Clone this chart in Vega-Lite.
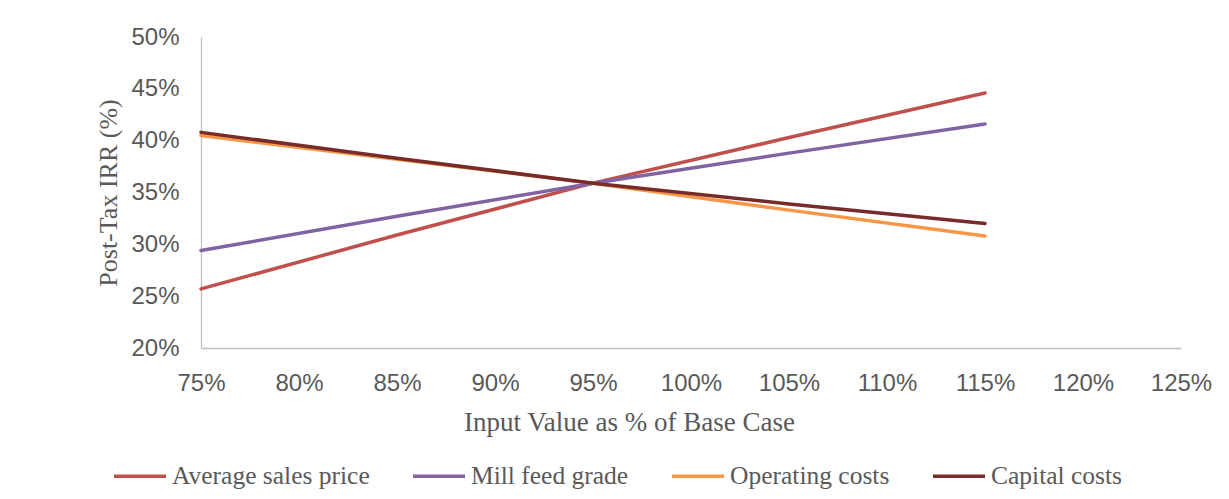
{
  "$schema": "https://vega.github.io/schema/vega-lite/v6.json",
  "autosize": "none",
  "width": 980,
  "height": 311,
  "padding": {"left": 201, "top": 37, "right": 48, "bottom": 151},
  "background": "white",
  "config": {"view": {"stroke": null}},
  "data": {"values": [
    {"x": 0.75, "y": 0.257, "s": "Average sales price"},
    {"x": 0.85, "y": 0.309, "s": "Average sales price"},
    {"x": 0.95, "y": 0.359, "s": "Average sales price"},
    {"x": 1.05, "y": 0.403, "s": "Average sales price"},
    {"x": 1.15, "y": 0.446, "s": "Average sales price"},
    {"x": 0.75, "y": 0.294, "s": "Mill feed grade"},
    {"x": 0.85, "y": 0.327, "s": "Mill feed grade"},
    {"x": 0.95, "y": 0.359, "s": "Mill feed grade"},
    {"x": 1.05, "y": 0.388, "s": "Mill feed grade"},
    {"x": 1.15, "y": 0.416, "s": "Mill feed grade"},
    {"x": 0.75, "y": 0.405, "s": "Operating costs"},
    {"x": 0.85, "y": 0.382, "s": "Operating costs"},
    {"x": 0.95, "y": 0.359, "s": "Operating costs"},
    {"x": 1.05, "y": 0.333, "s": "Operating costs"},
    {"x": 1.15, "y": 0.308, "s": "Operating costs"},
    {"x": 0.75, "y": 0.408, "s": "Capital costs"},
    {"x": 0.85, "y": 0.383, "s": "Capital costs"},
    {"x": 0.95, "y": 0.359, "s": "Capital costs"},
    {"x": 1.05, "y": 0.339, "s": "Capital costs"},
    {"x": 1.15, "y": 0.320, "s": "Capital costs"}
  ]},
  "mark": {"type": "line", "strokeWidth": 3.5, "strokeCap": "round"},
  "encoding": {
    "x": {
      "field": "x", "type": "quantitative",
      "scale": {"domain": [0.75, 1.25], "nice": false, "zero": false},
      "axis": {
        "values": [0.75, 0.8, 0.85, 0.9, 0.95, 1.0, 1.05, 1.1, 1.15, 1.2, 1.25],
        "format": ".0%", "grid": false, "ticks": false, "domainColor": "#bfbfbf", "domainWidth": 1.3,
        "labelFont": "Liberation Sans", "labelFontSize": 24, "labelColor": "#595959", "labelPadding": 23,
        "labelFlush": false,
        "title": "Input Value as % of Base Case", "titleFont": "Liberation Serif", "titleFontSize": 27,
        "titleFontWeight": "normal", "titleColor": "#595959", "titlePadding": 14, "titleX": 428
      }
    },
    "y": {
      "field": "y", "type": "quantitative",
      "scale": {"domain": [0.2, 0.5], "nice": false, "zero": false},
      "axis": {
        "values": [0.2, 0.25, 0.3, 0.35, 0.4, 0.45, 0.5],
        "format": ".0%", "grid": false, "ticks": false, "domainColor": "#bfbfbf", "domainWidth": 1.3,
        "labelFont": "Liberation Sans", "labelFontSize": 24, "labelColor": "#595959", "labelPadding": 22,
        "labelFlush": false,
        "title": "Post-Tax IRR (%)", "titleFont": "Liberation Serif", "titleFontSize": 26,
        "titleFontWeight": "normal", "titleColor": "#595959", "titlePadding": 9
      }
    },
    "color": {
      "field": "s", "type": "nominal",
      "scale": {
        "domain": ["Average sales price", "Mill feed grade", "Operating costs", "Capital costs"],
        "range": ["#C0504D", "#8064A2", "#F79646", "#772C2A"]
      },
      "legend": {
        "orient": "none", "legendX": -89, "legendY": 411, "direction": "horizontal", "columns": 4,
        "title": null, "symbolType": "stroke", "symbolSize": 2704, "symbolStrokeWidth": 3.5,
        "labelFont": "Liberation Serif", "labelFontSize": 25.5, "labelColor": "#595959", "labelLimit": 0,
        "columnPadding": 36, "labelOffset": 4
      }
    }
  }
}
